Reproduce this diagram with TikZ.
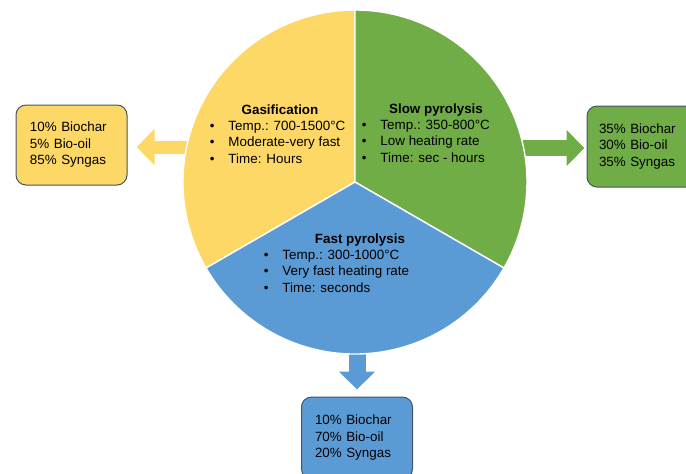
\documentclass[tikz,border=0pt]{standalone}
\usepackage{fontspec}
\setmainfont{Liberation Sans}
\usetikzlibrary{arrows.meta}

\definecolor{gasyellow}{RGB}{254,216,102}
\definecolor{slowgreen}{RGB}{112,173,71}
\definecolor{fastblue}{RGB}{91,155,213}
\definecolor{boxedge}{RGB}{68,84,106}

\newcommand{\itembullet}{\makebox[9.3pt][l]{\textbullet}}

\tikzset{
  sector/.style={draw=white, line width=0.7pt},
  yieldbox/.style={draw=boxedge, line width=0.5pt, rounded corners=5pt,
    minimum width=55.5pt, minimum height=40pt, align=left,
    font=\fontsize{6.7}{8.25}\selectfont},
  outarrow/.style={-{Triangle[length=9pt,width=17.5pt]}},
  heading/.style={font=\bfseries\fontsize{6.7}{8.25}\selectfont, anchor=base, inner sep=0pt},
  item/.style={font=\fontsize{6.7}{8.25}\selectfont, anchor=base west, inner sep=0pt}
}

\begin{document}
\begin{tikzpicture}[x=0.5pt,y=-0.5pt]
  \useasboundingbox (0,0) rectangle (686,473);

  % Centre of the wheel and feet of the arrows
  \coordinate (hub) at (355,182);
  \coordinate (gasfoot) at (230,147);
  \coordinate (slowfoot) at (480,148);
  \coordinate (fastfoot) at (357,300);

  % Yield boxes
  \node[yieldbox, fill=gasyellow, text width=41.5pt] (gasyield) at (71.5,145)
    {10\% Biochar\\5\% Bio-oil\\85\% Syngas};
  \node[yieldbox, fill=slowgreen, text width=43.5pt, minimum height=40.5pt] (slowyield) at (642.5,146.5)
    {35\% Biochar\\30\% Bio-oil\\35\% Syngas};
  \node[yieldbox, fill=fastblue, text width=42pt, minimum height=41pt] (fastyield) at (357,438)
    {10\% Biochar\\70\% Bio-oil\\20\% Syngas};

  % Block arrows out of the wheel
  \draw[outarrow, gasyellow, line width=6.5pt, shorten >=4.5pt] (gasfoot) -- (gasfoot -| gasyield.east);
  \draw[outarrow, slowgreen, line width=8pt, shorten >=1pt] (slowfoot) -- (slowfoot -| slowyield.west);
  \draw[outarrow, fastblue, line width=8.5pt, shorten >=3.5pt] (fastfoot) -- (fastfoot |- fastyield.north);

  % The three sectors
  \filldraw[sector, fill=gasyellow] (hub) -- ++(150:172) arc[start angle=150, end angle=270, radius=172] -- cycle;
  \filldraw[sector, fill=slowgreen] (hub) -- ++(-90:172) arc[start angle=-90, end angle=30, radius=172] -- cycle;
  \filldraw[sector, fill=fastblue] (hub) -- ++(30:172) arc[start angle=30, end angle=150, radius=172] -- cycle;

  % Gasification
  \node[heading] (gastitle) at (280,114) {Gasification};
  \foreach \txt [count=\i] in {Temp.: 700-1500°C, Moderate-very fast, Time: Hours}
    \node[item] (gas\i) at (209.5,113.5+16.5*\i) {\itembullet\txt};

  % Slow pyrolysis
  \node[heading] (slowtitle) at (436,113) {Slow pyrolysis};
  \foreach \txt [count=\i] in {Temp.: 350-800°C, Low heating rate, Time: sec - hours}
    \node[item] (slow\i) at (361.5,112.5+16.5*\i) {\itembullet\txt};

  % Fast pyrolysis
  \node[heading] (fasttitle) at (360,243) {Fast pyrolysis};
  \foreach \txt [count=\i] in {Temp.: 300-1000°C, Very fast heating rate, Time: seconds}
    \node[item] (fast\i) at (263.5,242.5+16.5*\i) {\itembullet\txt};
\end{tikzpicture}
\end{document}
